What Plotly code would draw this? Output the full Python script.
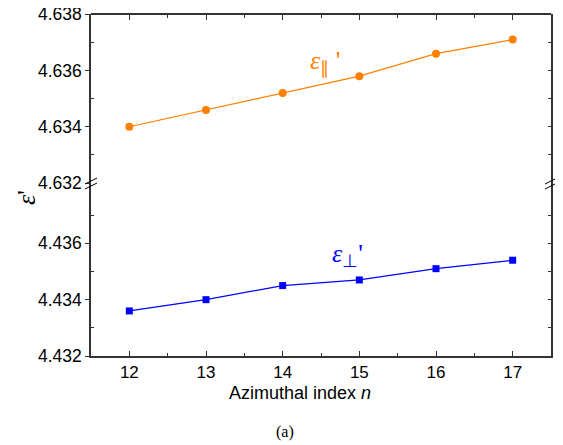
import plotly.graph_objects as go

n_values = [12, 13, 14, 15, 16, 17]
eps_par = [4.6340, 4.6346, 4.6352, 4.6358, 4.6366, 4.6371]
eps_perp = [4.4336, 4.4340, 4.4345, 4.4347, 4.4351, 4.4354]

top_ticks = [4.632, 4.634, 4.636, 4.638]
top_minor = [4.633, 4.635, 4.637]
bot_ticks = [4.432, 4.434, 4.436]
bot_minor = [4.433, 4.435, 4.437]
x_ticks = [12, 13, 14, 15, 16, 17]
x_minor = [12.5, 13.5, 14.5, 15.5, 16.5]

OFF = 8  # page body margin
W, H = 563 - OFF, 445 - OFF
L, T = 91 - OFF, 14 - OFF
R = W - (551 - OFF)
B = H - (356 - OFF)
pw = W - L - R
ph = H - T - B
brk_px = 183 - OFF
brk = 1 - (brk_px - T) / ph

def px_x(px):  # page px -> paper x
    return (px - OFF - L) / pw

def px_y(py):  # page px -> paper y
    return 1 - (py - OFF - T) / ph

ORANGE = "#FF8000"
BLUE = "#0000FF"
AX = "#333333"
SANS = "Liberation Sans"
SERIF = "Liberation Serif"
ytickfont = dict(family=SANS, size=17.5, color="black")
xtickfont = dict(family=SANS, size=17, color="black")

fig = go.Figure()
fig.add_trace(go.Scatter(x=n_values, y=eps_par, xaxis="x", yaxis="y",
                         mode="lines+markers", line=dict(color=ORANGE, width=1.2),
                         marker=dict(symbol="circle", size=8, color=ORANGE)))
fig.add_trace(go.Scatter(x=n_values, y=eps_perp, xaxis="x", yaxis="y2",
                         mode="lines+markers", line=dict(color=BLUE, width=1.2),
                         marker=dict(symbol="square", size=7, color=BLUE)))
# invisible carriers so the mirror (top/right) axes get drawn
fig.add_trace(go.Scatter(x=n_values, y=eps_par, xaxis="x2", yaxis="y3", mode="markers",
                         marker=dict(opacity=0), hoverinfo="skip"))
fig.add_trace(go.Scatter(x=n_values, y=eps_perp, xaxis="x2", yaxis="y4", mode="markers",
                         marker=dict(opacity=0), hoverinfo="skip"))

top_rng = [4.632, 4.63801]
bot_rng = [4.432, 4.432 + 0.006 * (ph - (brk_px - T)) / (brk_px - T)]

common = dict(showline=True, linecolor=AX, linewidth=1.5, showgrid=False,
              zeroline=False, automargin=False)

def minor(vals):
    return dict(tickvals=vals, ticks="inside", ticklen=3, tickcolor=AX, tickwidth=1.2)

fig.update_layout(
    width=W, height=H, margin=dict(l=L, r=R, t=T, b=B, autoexpand=False),
    paper_bgcolor="white", plot_bgcolor="white", showlegend=False,
    xaxis=dict(domain=[0, 1], range=[11.5, 17.5], anchor="y2", tickvals=x_ticks,
               ticks="inside", ticklen=5, tickcolor=AX, tickwidth=1.2, tickfont=xtickfont,
               minor=minor(x_minor), **common),
    xaxis2=dict(overlaying="x", range=[11.5, 17.5], anchor="free", position=1, side="top",
                tickvals=x_ticks, ticks="inside", ticklen=5, tickcolor=AX, tickwidth=1.2,
                showticklabels=False, minor=minor(x_minor), **common),
    yaxis=dict(domain=[brk, 1], range=top_rng, anchor="x", tickvals=top_ticks,
               tickformat=".3f", ticks="outside", ticklen=4, tickcolor=AX, tickwidth=1.2,
               tickfont=ytickfont, ticklabeloverflow="allow", minor=minor(top_minor), **common),
    yaxis2=dict(domain=[0, brk], range=bot_rng, anchor="x", tickvals=bot_ticks,
                tickformat=".3f", ticks="outside", ticklen=4, tickcolor=AX, tickwidth=1.2,
                tickfont=ytickfont, ticklabeloverflow="allow", minor=minor(bot_minor), **common),
    yaxis3=dict(overlaying="y", range=top_rng, anchor="x", side="right",
                tickvals=top_ticks, ticks="inside", ticklen=3, tickcolor=AX, tickwidth=1.2,
                showticklabels=False, minor=minor(top_minor), **common),
    yaxis4=dict(overlaying="y2", range=bot_rng, anchor="x", side="right",
                tickvals=bot_ticks, ticks="inside", ticklen=3, tickcolor=AX, tickwidth=1.2,
                showticklabels=False, minor=minor(bot_minor), **common),
)

# axis break marks
shapes = []
for xa in (0, 1):
    for dy in (2, -3):
        shapes.append(dict(type="line", xref="paper", yref="paper",
                           xsizemode="pixel", ysizemode="pixel",
                           xanchor=xa, yanchor=brk,
                           x0=-6, x1=6, y0=dy - 3, y1=dy + 3,
                           line=dict(color="black", width=1)))
fig.update_layout(shapes=shapes)

ann = [
    dict(text="<i>ε</i><sub>∥</sub> '", x=14.55, y=4.6363, xref="x", yref="y",
         showarrow=False, font=dict(family=SERIF, size=26, color=ORANGE)),
    dict(text="<i>ε</i><sub>⊥</sub>'", x=14.85, y=4.4356, xref="x", yref="y2",
         showarrow=False, font=dict(family=SERIF, size=26, color=BLUE)),
    dict(text="<i>ε</i>'", x=px_x(26), y=px_y(198), xref="paper", yref="paper",
         xanchor="center", yanchor="middle", textangle=-90,
         showarrow=False, font=dict(family=SERIF, size=26, color="black")),
    dict(text="Azimuthal index <i>n</i>", x=px_x(300), y=px_y(393),
         xref="paper", yref="paper", xanchor="center", yanchor="middle",
         showarrow=False, font=dict(family=SANS, size=18, color="black")),
    dict(text="(a)", x=px_x(285), y=px_y(432), xref="paper", yref="paper",
         xanchor="center", yanchor="middle",
         showarrow=False, font=dict(family=SERIF, size=16, color="black")),
]
fig.update_layout(annotations=ann)

fig.write_html("out.html")
